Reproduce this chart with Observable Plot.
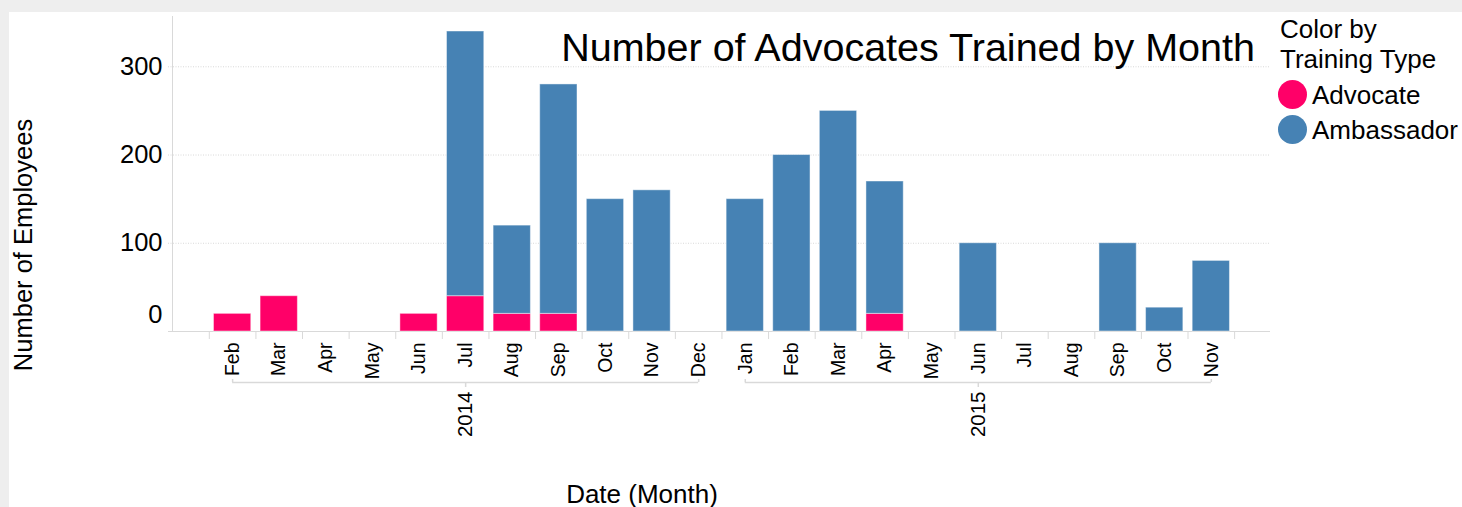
<!DOCTYPE html>
<html>
<head>
<meta charset="utf-8">
<script src="https://cdn.jsdelivr.net/npm/d3@7"></script>
<script src="https://cdn.jsdelivr.net/npm/@observablehq/plot@0.6"></script>
<style>
  html, body { margin: 0; padding: 0; }
  body { width: 1462px; height: 507px; background: #eeeeee; position: relative; overflow: hidden;
         font-family: "Liberation Sans", Arial, sans-serif; color: #000; }
  #panel { position: absolute; left: 9px; top: 12px; width: 1453px; height: 495px; background: #fff; }
  .abs { position: absolute; white-space: nowrap; }
  #title { right: 207px; top: 25px; font-size: 39.5px; line-height: 44px; }
  #ytitle { left: 23px; top: 245px; font-size: 25.5px; transform: translate(-50%, -50%) rotate(-90deg); }
  #xtitle { left: 642px; top: 494px; font-size: 26px; transform: translate(-50%, -50%); }
  #legend { left: 1280px; top: 14px; font-size: 26px; line-height: 30px; }
  .item { display: flex; align-items: center; height: 35px; margin-left: -2px; }
  .item.first { margin-top: 3px; }
  .dot { width: 29px; height: 29px; border-radius: 50%; margin-right: 5px; }
</style>
</head>
<body>
<div id="panel"></div>
<div id="title" class="abs"></div>
<div id="ytitle" class="abs"></div>
<div id="xtitle" class="abs"></div>
<div id="legend" class="abs"></div>
<script>
// ---- data ----
const monthLabels = ["Feb","Mar","Apr","May","Jun","Jul","Aug","Sep","Oct","Nov","Dec",
                     "Jan","Feb","Mar","Apr","May","Jun","Jul","Aug","Sep","Oct","Nov"];
const monthYears  = ["2014","2014","2014","2014","2014","2014","2014","2014","2014","2014","2014",
                     "2015","2015","2015","2015","2015","2015","2015","2015","2015","2015","2015"];
const advocate    = [20, 40, 0, 0, 20, 40, 20, 20, 0, 0, 0,
                     0, 0, 0, 20, 0, 0, 0, 0, 0, 0, 0];
const ambassador  = [0, 0, 0, 0, 0, 300, 100, 260, 150, 160, 0,
                     150, 200, 250, 150, 0, 100, 0, 0, 100, 27, 80];
const types       = ["Advocate", "Ambassador"];
const typeColors  = ["#ff0068", "#4682b4"];
const yTicks      = [100, 200, 300];
const yearNames   = ["2014", "2015"];

const titleText  = "Number of Advocates Trained by Month";
const yTitle     = "Number of Employees";
const xTitle     = "Date (Month)";
const legendTitle = ["Color by", "Training Type"];

// ---- tables built from the arrays ----
const bars = [];
monthLabels.forEach((m, i) => {
  if (advocate[i] > 0) bars.push({i, type: "Advocate", y1: 0, y2: advocate[i]});
  if (ambassador[i] > 0) bars.push({i, type: "Ambassador", y1: advocate[i], y2: advocate[i] + ambassador[i]});
});
const months = monthLabels.map((m, i) => ({i, label: m, year: monthYears[i]}));
const bounds = d3.range(monthLabels.length + 1).map(i => i - 0.5);
const years = yearNames.map(y => {
  const idx = months.filter(d => d.year === y).map(d => d.i);
  const a = d3.min(idx), b = d3.max(idx);
  return {year: y, start: a, end: b, mid: (a + b) / 2};
});
const yearEnds = years.flatMap(d => [d.start, d.end]);

const grid = "#d9d9d9";
const chart = Plot.plot({
  width: 1453,
  height: 495,
  marginLeft: 163,
  marginRight: 192,
  marginTop: 4,
  marginBottom: 176,
  style: {fontFamily: "'Liberation Sans', Arial, sans-serif", fontSize: "19px", color: "#000", background: "transparent", overflow: "visible"},
  x: {type: "linear", domain: [-1.29, 22.27], axis: null},
  y: {domain: [0, 357], axis: null},
  color: {domain: types, range: typeColors},
  marks: [
    Plot.ruleY(yTicks, {stroke: grid, strokeDasharray: "1,1.5", insetLeft: -4}),
    Plot.ruleY([0], {stroke: grid, insetLeft: -4}),
    Plot.ruleX([-1.29], {stroke: grid}),
    Plot.axisY(yTicks, {tickSize: 0, tickPadding: 10, fontSize: 25.5, stroke: grid, color: "#000"}),
    Plot.axisY([0], {tickSize: 0, tickPadding: 10, fontSize: 25.5, dy: -17, color: "#000"}),
    Plot.rect(bars, {x1: d => d.i - 0.4, x2: d => d.i + 0.4, y1: "y1", y2: "y2", fill: "type",
                     stroke: "#fff", strokeOpacity: 0.45, strokeWidth: 1}),
    Plot.ruleX(bounds, {y1: 0, y2: 0, insetBottom: -8, stroke: grid}),
    Plot.text(months, {x: "i", y: 0, text: "label", rotate: -90, textAnchor: "end", lineAnchor: "middle", dy: 11, fontSize: 19.5, fill: "#000"}),
    Plot.ruleY(years, {x1: "start", x2: "end", y: 0, dy: 51, stroke: grid, strokeWidth: 1.5}),
    Plot.ruleX(yearEnds, {y1: 0, y2: 0, dy: 48, insetBottom: -3, stroke: grid, strokeWidth: 1.5}),
    Plot.ruleX(years, {x: "mid", y1: 0, y2: 0, dy: 51, insetBottom: -5, stroke: grid, strokeWidth: 1.5}),
    Plot.text(years, {x: "mid", y: 0, text: "year", rotate: -90, textAnchor: "end", lineAnchor: "middle", dy: 60, fontSize: 20.5, fill: "#000"})
  ]
});
document.getElementById("panel").appendChild(chart);

document.getElementById("title").textContent = titleText;
document.getElementById("ytitle").textContent = yTitle;
document.getElementById("xtitle").textContent = xTitle;
const legend = document.getElementById("legend");
legendTitle.forEach(t => { const d = document.createElement("div"); d.textContent = t; legend.appendChild(d); });
types.forEach((t, k) => {
  const it = document.createElement("div"); it.className = k === 0 ? "item first" : "item";
  const dot = document.createElement("span"); dot.className = "dot"; dot.style.background = typeColors[k];
  const lab = document.createElement("span"); lab.textContent = t;
  it.appendChild(dot); it.appendChild(lab); legend.appendChild(it);
});
</script>
</body>
</html>
